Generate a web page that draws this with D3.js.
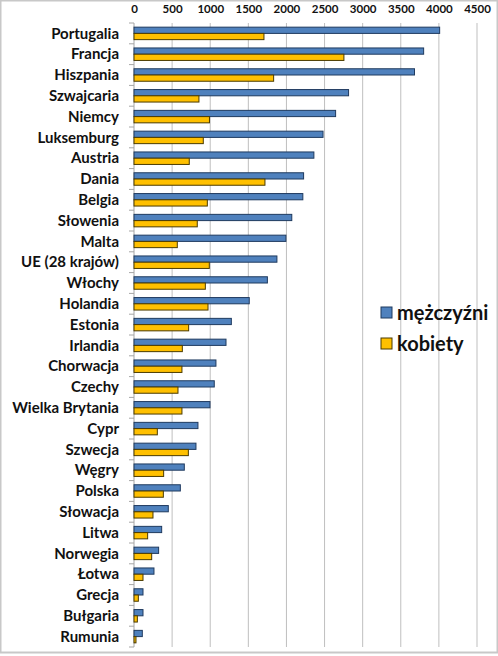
<!DOCTYPE html>
<html>
<head>
<meta charset="utf-8">
<script src="https://cdn.jsdelivr.net/npm/d3@7"></script>
<style>
  body { margin: 0; background: #fff; }
  svg { display: block; font-family: Lato, "Open Sans", sans-serif; }
</style>
</head>
<body>
<script>
// Data
const countries = ["Portugalia", "Francja", "Hiszpania", "Szwajcaria", "Niemcy", "Luksemburg",
  "Austria", "Dania", "Belgia", "Słowenia", "Malta", "UE (28 krajów)", "Włochy", "Holandia",
  "Estonia", "Irlandia", "Chorwacja", "Czechy", "Wielka Brytania", "Cypr", "Szwecja", "Węgry",
  "Polska", "Słowacja", "Litwa", "Norwegia", "Łotwa", "Grecja", "Bułgaria", "Rumunia"];
const men = [4010, 3800, 3680, 2815, 2645, 2480, 2360, 2225, 2215, 2070, 1993, 1875, 1750, 1512,
  1277, 1207, 1075, 1053, 997, 839, 813, 660, 608, 450, 363, 323, 262, 118, 118, 109];
const women = [1705, 2754, 1832, 852, 990, 909, 725, 1718, 962, 830, 568, 988, 936, 971,
  717, 634, 629, 577, 629, 306, 713, 389, 385, 249, 179, 232, 118, 57, 44, 26];
const seriesNames = ["mężczyźni", "kobiety"];
const ticks = [0, 500, 1000, 1500, 2000, 2500, 3000, 3500, 4000, 4500];

const width = 498, height = 656;
const margin = { top: 23, right: 21, bottom: 9, left: 134 };
const colors = ["#4F81BD", "#FFC000"];
const strokes = ["#1F3A5F", "#4A3A00"];

const svg = d3.select("body").append("svg")
    .attr("width", width)
    .attr("height", height);

// Frame around the picture
svg.append("rect")
    .attr("x", 0.5).attr("y", 0.5)
    .attr("width", width - 1).attr("height", height - 4)
    .attr("fill", "none")
    .attr("stroke", "#c8c8c8")
    .attr("stroke-width", 2);

const x = d3.scaleLinear()
    .domain([0, 4500])
    .range([margin.left, width - margin.right]);

const y = d3.scaleBand()
    .domain(countries)
    .range([margin.top, height - margin.bottom])
    .paddingInner(0.4)
    .paddingOuter(0.2);

const ySub = d3.scaleBand()
    .domain([0, 1])
    .range([0, y.bandwidth()]);

// Gridlines
svg.append("g")
    .selectAll("line")
    .data(ticks.slice(1))
    .join("line")
    .attr("x1", d => x(d)).attr("x2", d => x(d))
    .attr("y1", margin.top).attr("y2", height - margin.bottom)
    .attr("stroke", "#bfbfbf")
    .attr("stroke-width", 1);

// Top axis labels
svg.append("g")
    .attr("transform", `translate(0,${margin.top - 10})`)
    .call(d3.axisTop(x).tickValues(ticks).tickFormat(d3.format("d")).tickSize(0).tickPadding(0))
    .call(g => g.select(".domain").remove())
    .call(g => g.selectAll("text")
        .attr("font-family", "Lato, sans-serif")
        .attr("font-size", 11.5)
        .attr("font-weight", "bold")
        .attr("fill", "#111"));

// Left axis line and category ticks
const step = y.step();
const bounds = d3.range(countries.length + 1).map(i => margin.top + i * step);
svg.append("line")
    .attr("x1", x(0)).attr("x2", x(0))
    .attr("y1", margin.top).attr("y2", height - margin.bottom)
    .attr("stroke", "#a6a6a6");
svg.append("g")
    .selectAll("line")
    .data(bounds)
    .join("line")
    .attr("x1", x(0) - 5).attr("x2", x(0))
    .attr("y1", d => d).attr("y2", d => d)
    .attr("stroke", "#a6a6a6");

// Category labels
svg.append("g")
    .selectAll("text")
    .data(countries)
    .join("text")
    .attr("x", x(0) - 15)
    .attr("y", d => y(d) + y.bandwidth() / 2)
    .attr("dy", "0.35em")
    .attr("text-anchor", "end")
    .attr("font-size", 15)
    .attr("font-weight", "bold")
    .attr("fill", "#111")
    .text(d => d);

// Bars
[men, women].forEach((values, s) => {
    svg.append("g")
        .selectAll("rect")
        .data(countries)
        .join("rect")
        .attr("x", x(0))
        .attr("y", (d, i) => y(d) + ySub(s))
        .attr("width", (d, i) => x(values[i]) - x(0))
        .attr("height", ySub.bandwidth())
        .attr("fill", colors[s])
        .attr("stroke", strokes[s])
        .attr("stroke-width", 1);
});

// Legend
const legend = svg.append("g")
    .selectAll("g")
    .data(seriesNames)
    .join("g")
    .attr("transform", (d, i) => `translate(381,${307 + i * 31})`);
legend.append("rect")
    .attr("width", 11).attr("height", 11)
    .attr("fill", (d, i) => colors[i])
    .attr("stroke", (d, i) => strokes[i]);
legend.append("text")
    .attr("x", 16)
    .attr("y", 6)
    .attr("dy", "0.35em")
    .attr("font-size", 20)
    .attr("font-weight", "bold")
    .attr("fill", "#111")
    .text(d => d);
</script>
</body>
</html>
